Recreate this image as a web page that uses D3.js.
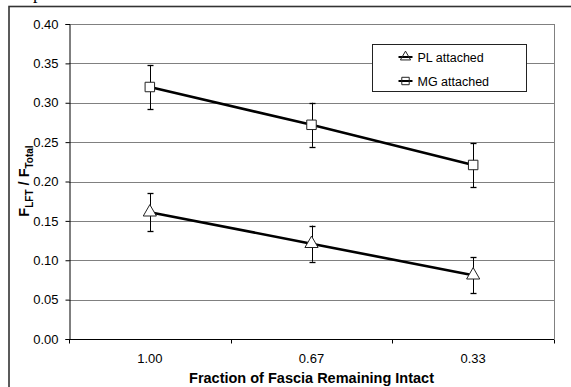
<!DOCTYPE html>
<html>
<head>
<meta charset="utf-8">
<script src="https://cdn.jsdelivr.net/npm/d3@7"></script>
<style>
  html, body { margin: 0; padding: 0; background: #fff; }
  svg { display: block; }
  text { font-family: "Liberation Sans", Arial, sans-serif; }
</style>
</head>
<body>
<svg id="chart" width="571" height="387"></svg>
<script>
// valeurs
const categories = ["1.00", "0.67", "0.33"]
const plMeans = [0.161, 0.121, 0.081]
const plErrs  = [0.024, 0.023, 0.023]
const mgMeans = [0.320, 0.272, 0.221]
const mgErrs  = [0.028, 0.028, 0.028]
const yTicks  = [0, 0.05, 0.10, 0.15, 0.20, 0.25, 0.30, 0.35, 0.40]

const svg = d3.select('#chart')
const W = 571, H = 387
const m = { top: 24, right: 17, bottom: 48, left: 69 }
const iw = W - m.left - m.right, ih = H - m.top - m.bottom

// bout de texte coupé au-dessus du cadre
svg.append('text').attr('x', 33).attr('y', -1)
  .style('font-family', '"Liberation Serif", serif').style('font-size', '18px').text('p')

// cadre extérieur (coupé à droite et en bas)
svg.append('rect').attr('x', 9).attr('y', 6.5).attr('width', 600).attr('height', 420)
  .attr('fill', 'none').attr('stroke', '#333').attr('stroke-width', 1.6)

const g = svg.append('g').attr('transform', `translate(${m.left},${m.top})`)

const x = d3.scaleBand().domain(categories).range([0, iw])
const y = d3.scaleLinear().domain([0, 0.40]).range([ih, 0])

// grille
g.selectAll('.grid').data(yTicks.slice(1)).join('line')
  .attr('x1', 0).attr('x2', iw)
  .attr('y1', d => Math.round(y(d)) + 0.5).attr('y2', d => Math.round(y(d)) + 0.5)
  .attr('stroke', '#808080').attr('stroke-width', 1)

// bord droit de la zone de tracé
g.append('line').attr('x1', iw + 0.5).attr('x2', iw + 0.5).attr('y1', 0).attr('y2', ih)
  .attr('stroke', '#808080')

// axe Y
const yAxis = g.append('g').attr('transform', 'translate(0.5,0)')
  .call(d3.axisLeft(y).tickValues(yTicks).tickFormat(d3.format('.2f')).tickSize(4).tickPadding(7))
yAxis.select('.domain').attr('stroke', '#000')
yAxis.selectAll('text').style('font-size', '13px').attr('fill', '#000')

// axe X — graduations entre catégories
const xAxis = g.append('g').attr('transform', `translate(0,${ih + 0.5})`)
xAxis.append('line').attr('x1', 0).attr('x2', iw).attr('stroke', '#000')
const bounds = categories.map(c => x(c)).concat([iw])
xAxis.selectAll('.tk').data(bounds).join('line')
  .attr('x1', d => Math.round(d) + 0.5).attr('x2', d => Math.round(d) + 0.5)
  .attr('y1', 0).attr('y2', 4).attr('stroke', '#000')
xAxis.selectAll('.lbl').data(categories).join('text')
  .attr('x', d => x(d) + x.bandwidth() / 2).attr('y', 23)
  .attr('text-anchor', 'middle').style('font-size', '13px').text(d => d)

// titres
svg.append('text').attr('x', m.left + iw / 2).attr('y', 383)
  .attr('text-anchor', 'middle').style('font-size', '14.5px').style('font-weight', 'bold')
  .text('Fraction of Fascia Remaining Intact')

const yl = svg.append('text').attr('transform', 'translate(29,181) rotate(-90)')
  .attr('text-anchor', 'middle').style('font-weight', 'bold').style('font-size', '14.5px')
yl.append('tspan').text('F')
yl.append('tspan').attr('dy', 4).style('font-size', '10px').text('LFT')
yl.append('tspan').attr('dy', -4).text(' / F')
yl.append('tspan').attr('dy', 4).style('font-size', '10px').text('Total')

const cx = c => x(c) + x.bandwidth() / 2
const line = d3.line().x(d => cx(d.c)).y(d => y(d.v))

const series = [
  { name: 'PL attached', means: plMeans, errs: plErrs, sym: d3.symbolTriangle },
  { name: 'MG attached', means: mgMeans, errs: mgErrs, sym: d3.symbolSquare }
]

series.forEach(s => {
  const pts = categories.map((c, i) => ({ c, v: s.means[i], e: s.errs[i] }))
  // barres d'erreur
  pts.forEach(p => {
    const px = Math.round(cx(p.c)) + 0.5
    g.append('line').attr('x1', px).attr('x2', px)
      .attr('y1', y(p.v + p.e)).attr('y2', y(p.v - p.e)).attr('stroke', '#000')
    ;[p.v + p.e, p.v - p.e].forEach(v => {
      g.append('line').attr('x1', px - 3).attr('x2', px + 3)
        .attr('y1', Math.round(y(v)) + 0.5).attr('y2', Math.round(y(v)) + 0.5)
        .attr('stroke', '#000').attr('stroke-width', 1.3)
    })
  })
  g.append('path').datum(pts).attr('d', line)
    .attr('fill', 'none').attr('stroke', '#000').attr('stroke-width', 2.6)
  g.selectAll(null).data(pts).join('path')
    .attr('transform', d => `translate(${cx(d.c)},${y(d.v)})`)
    .attr('d', d3.symbol().type(s.sym).size(s.sym === d3.symbolSquare ? 90 : 75))
    .attr('fill', '#fff').attr('stroke', '#222').attr('stroke-width', 1)
})

// légende
const lg = svg.append('g').attr('transform', 'translate(372.5,44.5)')
lg.append('rect').attr('width', 154).attr('height', 47)
  .attr('fill', '#fff').attr('stroke', '#222').attr('stroke-width', 1)
series.forEach((s, i) => {
  const ly = 12.5 + i * 24
  lg.append('line').attr('x1', 26).attr('x2', 40).attr('y1', ly).attr('y2', ly)
    .attr('stroke', '#000').attr('stroke-width', 2)
  lg.append('path').attr('transform', `translate(33,${ly})`)
    .attr('d', d3.symbol().type(s.sym).size(s.sym === d3.symbolSquare ? 55 : 45))
    .attr('fill', 'none').attr('stroke', '#222')
  lg.append('text').attr('x', 45).attr('y', ly + 4.5).style('font-size', '12.5px').text(s.name)
})
</script>
</body>
</html>
